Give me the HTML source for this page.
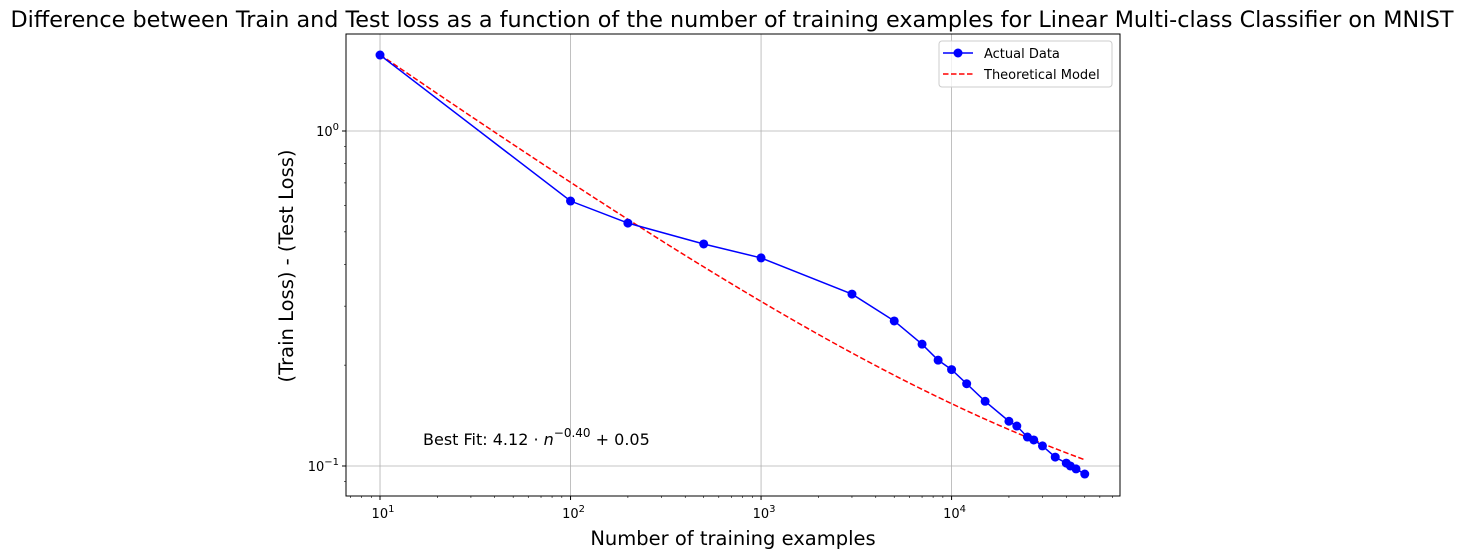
<!DOCTYPE html>
<html><head><meta charset="utf-8"><style>
body{margin:0;background:#fff;}
svg{display:block;font-family:"DejaVu Sans","Liberation Sans",sans-serif;}
</style></head><body>
<svg id="chart" width="1464" height="559" xmlns="http://www.w3.org/2000/svg">
<text x="732" y="27" font-size="22.3" text-anchor="middle" textLength="1443" lengthAdjust="spacingAndGlyphs">Difference between Train and Test loss as a function of the number of training examples for Linear Multi-class Classifier on MNIST</text>
<g id="grid"></g>
<g id="ticks"></g>
<g id="series"></g>
<rect x="346" y="34" width="774" height="462" fill="none" stroke="#000" stroke-width="1"/>
<text x="423" y="445" font-size="16">Best Fit: 4.12 · <tspan font-style="italic">n</tspan><tspan dy="-8" font-size="12">−0.40</tspan><tspan dy="8"> + 0.05</tspan></text>
<text x="733" y="545" font-size="19.5" text-anchor="middle">Number of training examples</text>
<text x="293" y="266" font-size="19.5" text-anchor="middle" transform="rotate(-90 293 266)">(Train Loss) - (Test Loss)</text>
<g>
<rect x="939" y="41" width="173" height="46" rx="3" fill="#fff" fill-opacity="0.8" stroke="#ccc"/>
<line x1="943" y1="53" x2="973" y2="53" stroke="#0000ff" stroke-width="1.5"/>
<circle cx="958" cy="53" r="4.5" fill="#0000ff"/>
<text x="984" y="58" font-size="13">Actual Data</text>
<line x1="943" y1="74" x2="973" y2="74" stroke="#ff0000" stroke-width="1.5" stroke-dasharray="5.5,2.5"/>
<text x="984" y="79" font-size="13">Theoretical Model</text>
</g>
</svg>
<script>
const nValues=[10,100,200,500,1000,3000,5000,7000,8500,10000,12000,15000,20000,22000,25000,27000,30000,35000,40000,42000,45000,50000];
const gapValues=[1.686,0.618,0.531,0.460,0.418,0.326,0.271,0.231,0.207,0.194,0.176,0.156,0.136,0.1316,0.122,0.1196,0.1148,0.1063,0.102,0.100,0.098,0.0946];
const fitParams=[4.12,-0.40,0.05];
const xTickLabels=["10","100","1000","10000"];
const yTickLabels=["0.1","1"];
const NS="http://www.w3.org/2000/svg";
const X0=346,X1=1120,Y0=34,Y1=496;
const xmin=0.8215,xmax=4.884,ymin=-1.0896,ymax=0.2896;
const sx=v=>X0+(Math.log10(v)-xmin)/(xmax-xmin)*(X1-X0);
const sy=v=>Y1-(Math.log10(v)-ymin)/(ymax-ymin)*(Y1-Y0);
function mk(tag,attrs,parent){const e=document.createElementNS(NS,tag);for(const k in attrs)e.setAttribute(k,attrs[k]);parent.appendChild(e);return e;}
const grid=document.getElementById('grid'),ticks=document.getElementById('ticks'),series=document.getElementById('series');
function label(tx,p){const a=mk('tspan',{},tx);a.textContent='10';const b=mk('tspan',{dy:-6,'font-size':10},tx);b.textContent=String(p).replace('-','−');}
xTickLabels.forEach(t=>{const v=+t,x=sx(v),p=Math.round(Math.log10(v));
 const g=mk('line',{x1:x,x2:x,y1:Y0,y2:Y1,stroke:'#b0b0b0','stroke-width':0.8},grid);
 
 mk('line',{x1:x,x2:x,y1:Y1,y2:Y1+4,stroke:'#000'},ticks);
 const tx=mk('text',{x:x+3,y:Y1+22,'font-size':13,'text-anchor':'middle'},ticks);
 
 label(tx,p);});
for(let d=0;d<5;d++)for(let m=2;m<10;m++){const v=m*Math.pow(10,d),l=Math.log10(v);if(l<xmin||l>xmax)continue;
 mk('line',{x1:sx(v),x2:sx(v),y1:Y1,y2:Y1+2,stroke:'#000','stroke-width':0.6},ticks);}
yTickLabels.forEach(t=>{const v=+t,y=sy(v),p=Math.round(Math.log10(v));
 const g=mk('line',{x1:X0,x2:X1,y1:y,y2:y,stroke:'#b0b0b0','stroke-width':0.8},grid);
 
 mk('line',{x1:X0-4,x2:X0,y1:y,y2:y,stroke:'#000'},ticks);
 const tx=mk('text',{x:X0-7,y:y+5,'font-size':13,'text-anchor':'end'},ticks);
 
 label(tx,p);});
for(let d=-2;d<1;d++)for(let m=2;m<10;m++){const v=m*Math.pow(10,d),l=Math.log10(v);if(l<ymin||l>ymax)continue;
 mk('line',{x1:X0-2,x2:X0,y1:sy(v),y2:sy(v),stroke:'#000','stroke-width':0.6},ticks);}
const nmin=nValues[0],nmax=nValues[nValues.length-1];let tp=[];
for(let i=0;i<=100;i++){const n=nmin*Math.pow(nmax/nmin,i/100);const y=fitParams[0]*Math.pow(n,fitParams[1])+fitParams[2];tp.push(sx(n)+','+sy(y));}
const th=mk('polyline',{points:tp.join(' '),fill:'none',stroke:'#ff0000','stroke-width':1.5,'stroke-dasharray':'5.5,2.5'},series);

const pts=nValues.map((n,i)=>sx(n)+','+sy(gapValues[i])).join(' ');
const al=mk('polyline',{points:pts,fill:'none',stroke:'#0000ff','stroke-width':1.5},series);

nValues.forEach((n,i)=>{const c=mk('circle',{cx:sx(n),cy:sy(gapValues[i]),r:4.5,fill:'#0000ff'},series);
 });
</script>
</body></html>
